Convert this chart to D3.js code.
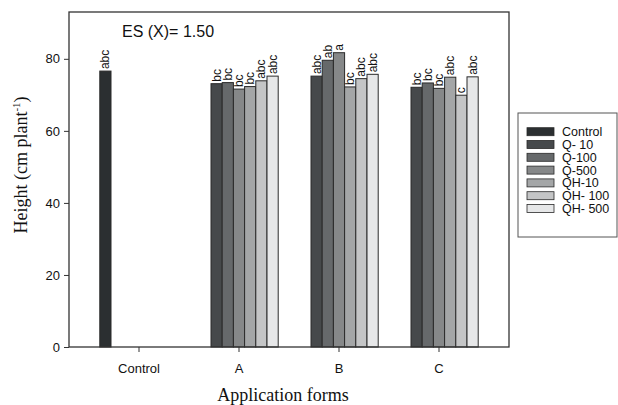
<!DOCTYPE html>
<html>
<head>
<meta charset="utf-8">
<script src="https://cdn.jsdelivr.net/npm/d3@7"></script>
<style>
  body { margin: 0; background: #fff; }
  svg { display: block; }
</style>
</head>
<body>
<svg width="618" height="405"></svg>
<script>
let groups = ['Control', 'A', 'B', 'C'];
let series = ['Control', 'Q- 10', 'Q-100', 'Q-500', 'QH-10', 'QH- 100', 'QH- 500'];
let colors = ['#2b2f31', '#46494b', '#66696b', '#868889', '#a4a6a7', '#c4c5c6', '#e6e7e8'];
// values per group, one per series (null = no bar)
let values = [
  [76.6, null, null, null, null, null, null],
  [null, 73.1, 73.4, 71.6, 72.3, 73.9, 75.2],
  [null, 75.2, 79.6, 81.7, 72.2, 74.5, 75.7],
  [null, 72.1, 73.3, 71.8, 74.9, 69.9, 75.0]
];
let letters = [
  ['abc', null, null, null, null, null, null],
  [null, 'bc', 'bc', 'bc', 'bc', 'abc', 'abc'],
  [null, 'abc', 'ab', 'a', 'bc', 'abc', 'abc'],
  [null, 'bc', 'bc', 'bc', 'abc', 'c', 'abc']
];
let yTicks = [0, 20, 40, 60, 80];

let svg = d3.select('svg');
let plotL = 69, plotR = 509, plotT = 12, plotB = 347;

let x = d3.scaleBand().domain(groups).range([plotL, plotR]).paddingInner(0).paddingOuter(0.2);
let xInner = d3.scaleBand().domain(series).range([-39.2, 39.2]);
let y = d3.scaleLinear().domain([0, 93]).range([plotB, plotT]);

// bars
let bars = [];
groups.forEach((g, gi) => {
  series.forEach((s, si) => {
    if (values[gi][si] != null) bars.push({ g: g, s: s, si: si, v: values[gi][si], t: letters[gi][si] });
  });
});

let cx = d => x(d.g) + x.bandwidth() / 2 + xInner(d.s);

svg.selectAll('rect.bar')
  .data(bars)
  .enter()
  .append('rect')
  .attr('class', 'bar')
  .attr('x', d => cx(d))
  .attr('y', d => y(d.v))
  .attr('width', xInner.bandwidth())
  .attr('height', d => y(0) - y(d.v))
  .attr('fill', d => colors[d.si])
  .attr('stroke', '#2a2a2a')
  .attr('stroke-width', 1);

// significance letters, rotated
svg.selectAll('text.sig')
  .data(bars)
  .enter()
  .append('text')
  .attr('class', 'sig')
  .attr('transform', d => 'translate(' + (cx(d) + xInner.bandwidth() / 2 + 4) + ',' + (y(d.v) - 2) + ') rotate(-90)')
  .attr('font-family', 'Liberation Sans, Arial, sans-serif')
  .attr('font-size', 12)
  .attr('fill', '#111')
  .text(d => d.t);

// frame
svg.append('rect')
  .attr('x', plotL).attr('y', plotT)
  .attr('width', plotR - plotL).attr('height', plotB - plotT)
  .attr('fill', 'none')
  .attr('stroke', '#333')
  .attr('stroke-width', 1.3);

// y axis
let yAxis = svg.append('g')
  .attr('transform', 'translate(' + plotL + ',0)')
  .call(d3.axisLeft(y).tickValues(yTicks).tickSize(5).tickPadding(4));
yAxis.select('.domain').remove();
yAxis.selectAll('text')
  .attr('font-family', 'Liberation Sans, Arial, sans-serif')
  .attr('font-size', 13)
  .attr('fill', '#111');
yAxis.selectAll('line').attr('stroke', '#333');

// x axis
let xAxis = svg.append('g')
  .attr('transform', 'translate(0,' + plotB + ')')
  .call(d3.axisBottom(x).tickSize(5).tickPadding(12));
xAxis.select('.domain').remove();
xAxis.selectAll('text')
  .attr('font-family', 'Liberation Sans, Arial, sans-serif')
  .attr('font-size', 13)
  .attr('fill', '#111');
xAxis.selectAll('line').attr('stroke', '#333');

// axis titles
svg.append('text')
  .attr('x', 283).attr('y', 401)
  .attr('text-anchor', 'middle')
  .attr('font-family', 'Liberation Serif, Times New Roman, serif')
  .attr('font-size', 18)
  .attr('fill', '#111')
  .text('Application forms');

let yt = svg.append('text')
  .attr('transform', 'translate(27,165) rotate(-90)')
  .attr('text-anchor', 'middle')
  .attr('font-family', 'Liberation Serif, Times New Roman, serif')
  .attr('font-size', 18)
  .attr('fill', '#111');
yt.append('tspan').text('Height (cm plant');
yt.append('tspan').attr('font-size', 11).attr('dy', -7).text('-1');
yt.append('tspan').attr('dy', 7).text(')');

// annotation
svg.append('text')
  .attr('x', 122).attr('y', 37)
  .attr('font-family', 'Liberation Sans, Arial, sans-serif')
  .attr('font-size', 16)
  .attr('fill', '#111')
  .text('ES (X)= 1.50');

// legend
let legend = svg.append('g');
legend.append('rect')
  .attr('x', 518).attr('y', 113)
  .attr('width', 99).attr('height', 124)
  .attr('fill', '#fff')
  .attr('stroke', '#555')
  .attr('stroke-width', 1);

let items = legend.selectAll('g.item')
  .data(series)
  .enter()
  .append('g')
  .attr('class', 'item')
  .attr('transform', (d, i) => 'translate(527,' + (131.7 + i * 12.8) + ')');
items.append('rect')
  .attr('x', 0).attr('y', -4)
  .attr('width', 27).attr('height', 8)
  .attr('fill', (d, i) => colors[i])
  .attr('stroke', '#2a2a2a')
  .attr('stroke-width', 0.8);
items.append('text')
  .attr('x', 35).attr('y', 4.5)
  .attr('font-family', 'Liberation Sans, Arial, sans-serif')
  .attr('font-size', 12.5)
  .attr('fill', '#111')
  .text(d => d);
</script>
</body>
</html>
